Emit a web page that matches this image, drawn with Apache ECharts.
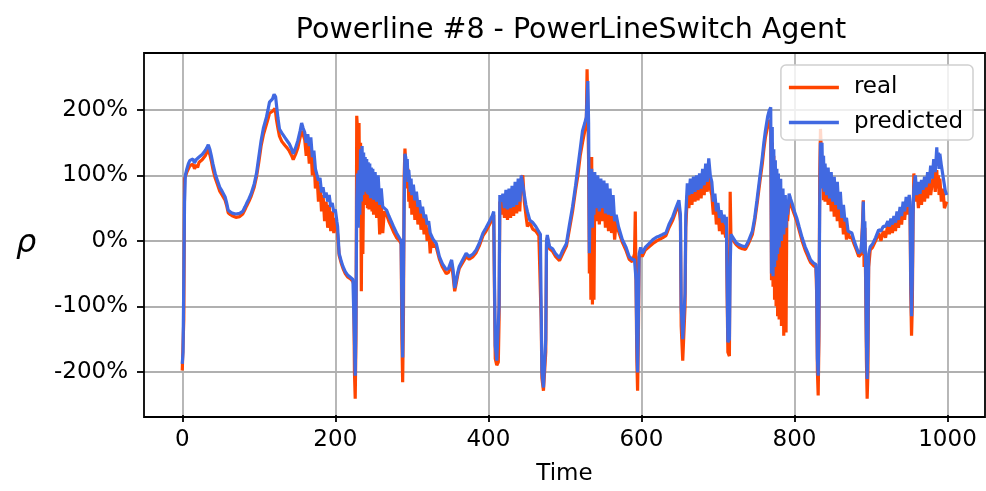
<!DOCTYPE html>
<html>
<head>
<meta charset="utf-8">
<script src="https://cdn.jsdelivr.net/npm/echarts@6/dist/echarts.min.js"></script>
<style>
html,body{margin:0;padding:0;background:#fff;}
#main{width:986px;height:491px;}
</style>
</head>
<body>
<div id="main"></div>
<script>
//数据：[时间, ρ(%)]
var seriesNames = ['real', 'predicted']
var xTicks = [0, 200, 400, 600, 800, 1000]
var yTicks = [-200, -100, 0, 100, 200]
var real = [
	[0,-198],[1,-200],[2,-120],[3,95],[4,98],[6,105],[8,110],[10,115],[12,112],[14,117],[16,110],[18,116],[20,112],[22,120],[24,117],[26,124],[28,127],[30,130],[32,135],[34,140],[36,132],[38,122],[40,110],[43,96],[46,86],[49,76],[52,70],[56,62],[58,54],[60,43],[63,40],[66,38],[70,36],[75,37],[79,41],[82,48],[84,53],[87,60],[90,68],[94,82],[97,98],
	[100,120],[103,145],[106,162],[110,178],[112,186],[114,195],[116,197],[118,198],[120,200],[121,202],[122,196],[123,186],[125,172],[127,160],[130,152],[134,146],[137,142],[140,137],[143,130],[145,124],[148,132],[151,142],[154,158],[156,168],[158,162],[160,155],
	[162,130],[164,150],[166,118],[168,145],[170,100],[172,128],[174,80],[176,100],[178,60],[180,85],[182,45],[184,70],[186,30],[188,60],[190,20],[192,55],[194,15],[196,45],[198,12],[200,35],[202,20],[203,10],[205,-22],[208,-35],[210,-42],[213,-50],[216,-55],[220,-58],[223,-62],[224,-66],[225,-200],[226,-241],[227,-150],[228,191],[229,170],[230,100],[231,180],[232,40],[233,150],[234,-77],[235,120],[236,-20],[237,100],[238,60],[239,95],[240,55],[241,95],[242,50],[243,90],[244,48],[245,88],[246,50],[247,86],[248,45],[249,85],[250,40],[252,80],[254,35],[256,70],[258,10],[260,60],[262,12],[264,45],[267,40],[270,30],[273,22],[276,14],[280,5],[284,0],[286,-5],[287,-150],[288,-216],[289,-120],[290,100],[291,141],[292,120],[293,100],[294,80],[295,110],[296,60],[297,90],[298,50],[299,85],
	[300,40],[302,75],[304,32],[306,65],[308,25],[310,55],[312,17],[314,45],[316,10],[318,35],[320,0],[322,20],[324,-19],[326,5],[328,-10],[330,-5],[332,-10],[336,-28],[340,-40],[345,-50],[348,-48],[352,-35],[354,-55],[356,-77],[358,-65],[360,-52],[362,-42],[366,-34],[371,-24],[375,-28],[380,-24],[384,-18],[388,-8],[393,8],[397,15],
	[401,24],[405,33],[407,40],[408,-80],[409,-180],[411,-190],[413,-185],[414,-120],[415,60],[417,40],[419,65],[421,35],[423,70],[425,32],[427,72],[429,35],[431,78],[433,38],[435,80],[437,42],[439,88],[441,45],[443,95],[445,100],[447,60],[449,40],[451,22],[454,28],[458,18],[462,15],[466,8],[468,5],[469,-120],[470,-210],[472,-229],[474,-228],[475,-170],[476,-5],[477,5],[480,-12],[484,-16],[488,-24],[493,-30],[497,-20],
	[502,-8],[506,18],[510,45],[514,78],[517,100],[520,130],[523,150],[526,168],[528,180],[529,262],[530,200],[531,120],[532,-50],[533,60],[534,-90],[535,128],[536,-97],[537,80],[538,-90],[539,70],[541,30],[543,75],[545,25],[547,70],[549,30],[551,65],[553,20],[555,60],[557,15],[559,55],[561,12],[563,45],[565,2],[567,30],[570,15],[575,-2],[580,-15],[584,-28],[588,-32],[591,-20],[592,45],[593,47],[594,-180],[595,-229],[596,-150],[597,-25],[599,-15],
	[601,-24],[605,-14],[610,-9],[615,-4],[620,0],[623,2],[628,5],[632,8],[636,20],[641,32],[645,45],[649,55],[651,30],[652,-130],[654,-183],[656,-180],[657,-100],[658,20],[660,70],[662,50],[664,80],[666,55],[668,85],[670,60],[672,88],[674,62],[676,92],[678,65],[680,98],[682,70],[684,105],[686,75],[688,115],[690,80],[692,70],[694,40],[696,60],[698,25],
	[700,48],[702,15],[704,38],[706,10],[708,30],[710,5],[711,30],[712,-80],[713,-170],[715,-176],[716,75],[717,5],[719,2],[724,-6],[728,-10],[732,-12],[736,-13],[740,-4],[745,10],[748,30],[751,55],[755,92],[758,118],[760,140],[762,158],[765,175],[767,185],[769,170],[770,-60],[771,150],[772,-70],[773,130],[774,-90],[775,100],[776,-100],[777,90],[778,-115],[779,80],[780,-120],[782,70],[783,-130],[785,60],[786,-145],[788,50],[789,-140],[790,40],[791,30],[793,60],[795,55],[797,50],
	[800,40],[803,30],[806,17],[810,0],[814,-14],[818,-25],[821,-33],[825,-38],[828,-40],[829,-80],[830,-200],[831,-236],[832,-150],[833,100],[834,171],[835,140],[836,100],[837,130],[838,62],[839,110],[840,60],[842,105],[844,55],[846,95],[848,45],[850,85],[852,37],[854,75],[856,30],[858,60],[860,20],[862,45],[864,10],[866,30],[868,2],[870,15],[872,5],[875,5],[878,-5],[881,-14],[884,-24],[887,-20],[889,30],[890,62],[891,-40],[892,20],[893,-60],[894,-180],[895,-241],[896,-200],[897,-40],[899,-14],
	[902,-10],[906,0],[910,12],[913,0],[916,15],[919,5],[922,25],[924,10],[926,28],[928,12],[930,32],[932,15],[934,38],[936,20],[938,45],[940,25],[942,52],[944,32],[946,60],[948,40],[950,62],[951,50],[952,-80],[953,-145],[954,-100],[955,30],[956,103],[958,60],[960,80],[962,50],[964,82],[966,55],[968,88],[970,60],[972,92],[974,65],[976,98],[978,70],[980,88],[982,105],[984,75],[986,108],[987,80],[988,100],[989,70],[990,95],[992,60],[994,80],[996,50],[997,47],[999,60]
]
var predicted = [
	[0,-188],[1,-170],[2,-60],[3,60],[4,100],[6,110],[8,118],[10,123],[12,120],[14,125],[16,119],[18,124],[20,121],[22,128],[24,126],[26,132],[28,134],[30,138],[32,142],[34,147],[36,140],[38,130],[40,118],[43,103],[46,92],[49,82],[52,76],[56,67],[58,58],[60,47],[63,44],[66,42],[70,41],[75,42],[79,45],[82,52],[84,57],[87,64],[90,72],[94,87],[97,103],
	[100,128],[103,153],[106,172],[110,189],[112,200],[114,212],[116,214],[118,217],[120,224],[121,227],[122,220],[123,209],[125,188],[127,171],[130,165],[134,158],[137,153],[140,148],[143,140],[145,133],[148,142],[151,153],[154,168],[156,180],[158,172],[160,166],
	[162,150],[164,163],[166,145],[168,158],[170,128],[172,138],[174,110],[176,112],[178,92],[180,96],[182,74],[184,82],[186,66],[188,74],[190,60],[192,70],[194,52],[196,58],[198,44],[200,48],[202,30],[203,22],[205,-19],[208,-32],[210,-39],[213,-47],[216,-52],[220,-56],[223,-59],[224,-60],[225,-150],[226,-206],[227,-120],[228,60],[229,103],[230,20],[231,108],[232,40],[233,140],[234,60],[235,145],[236,70],[237,135],[238,80],[239,128],[240,75],[241,125],[242,72],[243,120],[244,70],[245,118],[246,65],[247,112],[248,68],[249,110],[250,63],[252,105],[254,60],[256,100],[258,55],[260,80],[262,52],[264,55],[267,47],[270,38],[273,30],[276,22],[280,12],[284,4],[286,0],[287,-100],[288,-178],[289,-60],[290,60],[291,133],[292,128],[293,110],[294,125],[295,90],[296,108],[297,93],[298,75],[299,95],
	[300,70],[302,86],[304,62],[306,75],[308,52],[310,62],[312,42],[314,52],[316,35],[318,40],[320,25],[322,30],[324,12],[326,15],[328,2],[330,2],[332,-4],[336,-24],[340,-35],[345,-44],[348,-42],[352,-29],[354,-45],[356,-72],[358,-60],[360,-48],[362,-39],[366,-30],[371,-19],[375,-24],[380,-20],[384,-14],[388,-4],[393,12],[397,20],
	[401,29],[405,38],[407,45],[408,-60],[409,-160],[411,-183],[413,-180],[414,-100],[415,70],[417,60],[419,72],[421,50],[423,78],[425,48],[427,80],[429,50],[431,84],[433,52],[435,90],[437,55],[439,95],[441,60],[443,100],[445,103],[447,70],[449,55],[451,45],[454,32],[458,28],[462,22],[466,14],[468,10],[469,-100],[470,-200],[472,-224],[474,-222],[475,-150],[476,0],[477,9],[480,-9],[484,-12],[488,-20],[493,-26],[497,-15],
	[502,-4],[506,25],[510,52],[514,85],[517,113],[520,140],[523,168],[526,180],[528,189],[529,215],[530,244],[531,180],[532,-19],[533,90],[534,30],[535,110],[536,20],[537,100],[538,40],[539,105],[541,50],[543,100],[545,45],[547,95],[549,50],[551,92],[553,42],[555,88],[557,40],[559,80],[561,38],[563,70],[565,30],[567,40],[570,22],[575,2],[580,-10],[584,-24],[588,-28],[591,-29],[593,-60],[594,-150],[595,-201],[596,-120],[597,-20],[599,-10],
	[601,-19],[605,-10],[610,-4],[615,2],[620,6],[623,7],[628,10],[632,12],[636,25],[641,37],[645,50],[649,62],[651,40],[652,-100],[654,-150],[656,-148],[657,-80],[658,40],[660,88],[662,70],[664,95],[666,72],[668,98],[670,75],[672,100],[674,78],[676,103],[678,80],[680,110],[682,85],[684,118],[686,90],[688,126],[690,100],[692,90],[694,60],[696,72],[698,45],
	[700,58],[702,35],[704,47],[706,28],[708,40],[710,25],[711,37],[712,-60],[713,-155],[715,-150],[716,-40],[717,10],[719,7],[724,-3],[728,-6],[732,-8],[736,-9],[740,0],[745,15],[748,35],[751,62],[755,100],[758,128],[760,150],[762,168],[765,190],[767,199],[769,204],[770,-50],[771,174],[772,-54],[773,140],[774,-40],[775,123],[776,-30],[777,110],[778,-20],[779,103],[780,-10],[782,95],[783,0],[785,80],[786,10],[788,70],[789,20],[790,62],[791,40],[793,72],[795,64],[797,57],
	[800,45],[803,35],[806,22],[810,5],[814,-9],[818,-20],[821,-29],[825,-34],[828,-36],[829,-60],[830,-180],[831,-206],[832,-120],[833,50],[834,150],[835,120],[836,150],[837,80],[838,130],[839,75],[840,118],[842,70],[844,112],[846,65],[848,105],[850,60],[852,98],[854,55],[856,90],[858,48],[860,75],[862,35],[864,55],[866,30],[868,35],[870,15],[872,18],[875,12],[878,0],[881,-10],[884,-19],[887,-15],[889,20],[890,60],[891,-20],[892,30],[893,-40],[894,-150],[895,-211],[896,-150],[897,-20],[899,-9],
	[902,-5],[906,5],[910,17],[913,15],[916,22],[919,22],[922,30],[924,22],[926,34],[928,25],[930,38],[932,28],[934,45],[936,32],[938,52],[940,38],[942,60],[944,45],[946,67],[948,52],[950,70],[951,60],[952,-60],[953,-115],[954,-60],[955,40],[956,80],[958,100],[960,70],[962,90],[964,72],[966,93],[968,78],[970,98],[972,82],[974,105],[976,88],[978,115],[980,95],[982,125],[984,105],[986,143],[987,115],[988,135],[989,110],[990,133],[992,115],[994,100],[996,85],[997,77],[999,70]
]
var colors = ['#ff4500', '#4169e1']

var font = 'DejaVu Sans'
// 绘图区位置（像素）
var plot = { left: 144, top: 53, right: 985, bottom: 417 }
var myChart = echarts.init(document.getElementById('main'))
var option = {
	animation: false,
	title: {
		text: 'Powerline #8 - PowerLineSwitch Agent',
		left: 566,
		top: 11,
		textAlign: 'center',
		textStyle: {
			fontFamily: font,
			fontWeight: 'normal',
			fontSize: 28.5,
			color: '#000'
		}
	},
	graphic: [{
		type: 'text',
		left: 16,
		top: 228,
		style: {
			text: 'ρ',
			font: 'italic 32px DejaVu Sans',
			fill: '#000'
		}
	}, {
		// 边框放在最上层，盖住边缘的网格线
		type: 'rect',
		z: 100,
		shape: { x: plot.left, y: plot.top, width: plot.right - plot.left, height: plot.bottom - plot.top },
		style: { fill: 'none', stroke: '#000', lineWidth: 1.8 }
	}],
	legend: {
		data: seriesNames,
		orient: 'vertical',
		right: 13,
		top: 65,
		padding: [11, 10, 6, 8],
		itemGap: 12,
		itemWidth: 50,
		itemHeight: 3.5,
		icon: 'rect',
		backgroundColor: 'rgba(255,255,255,0.8)',
		borderColor: '#d0d0d0',
		borderWidth: 1.5,
		borderRadius: 5,
		textStyle: {
			fontFamily: font,
			fontSize: 23,
			color: '#000',
			padding: [0, 0, 0, 10]
		}
	},
	grid: {
		left: plot.left,
		right: 986 - plot.right,
		top: plot.top,
		bottom: 491 - plot.bottom,
		show: false,
		containLabel: false
	},
	xAxis: {
		type: 'value',
		min: -50,
		max: 1049,
		splitNumber: 5,
		name: 'Time',
		nameLocation: 'middle',
		nameGap: 48,
		nameTextStyle: { fontFamily: font, fontSize: 23, color: '#000' },
		axisLine: { show: false, onZero: false },
		axisTick: { show: true, customValues: xTicks, length: 7, lineStyle: { color: '#000', width: 1.8 } },
		axisLabel: {
			margin: 14,
			fontFamily: font,
			fontSize: 23,
			color: '#000',
			showMinLabel: false,
			showMaxLabel: false,
			formatter: function (v) { return xTicks.indexOf(v) >= 0 ? String(v) : '' }
		},
		splitLine: { show: true, lineStyle: { color: '#b0b0b0', width: 1.8 } }
	},
	yAxis: {
		type: 'value',
		min: -266,
		max: 287,
		splitNumber: 5,
		axisLine: { show: false, onZero: false },
		axisTick: { show: true, customValues: yTicks, length: 7, lineStyle: { color: '#000', width: 1.8 } },
		axisLabel: {
			margin: 16,
			fontFamily: font,
			fontSize: 23,
			color: '#000',
			showMinLabel: false,
			showMaxLabel: false,
			formatter: function (v) { return yTicks.indexOf(v) >= 0 ? v + '%' : '' }
		},
		splitLine: { show: true, lineStyle: { color: '#b0b0b0', width: 1.8 } }
	},
	series: [{
		name: seriesNames[0],
		type: 'line',
		data: real,
		showSymbol: false,
		color: colors[0],
		lineStyle: { width: 3.2, color: colors[0] }
	}, {
		name: seriesNames[1],
		type: 'line',
		data: predicted,
		showSymbol: false,
		color: colors[1],
		lineStyle: { width: 3.2, color: colors[1] }
	}]
}
myChart.setOption(option, true)
</script>
</body>
</html>
